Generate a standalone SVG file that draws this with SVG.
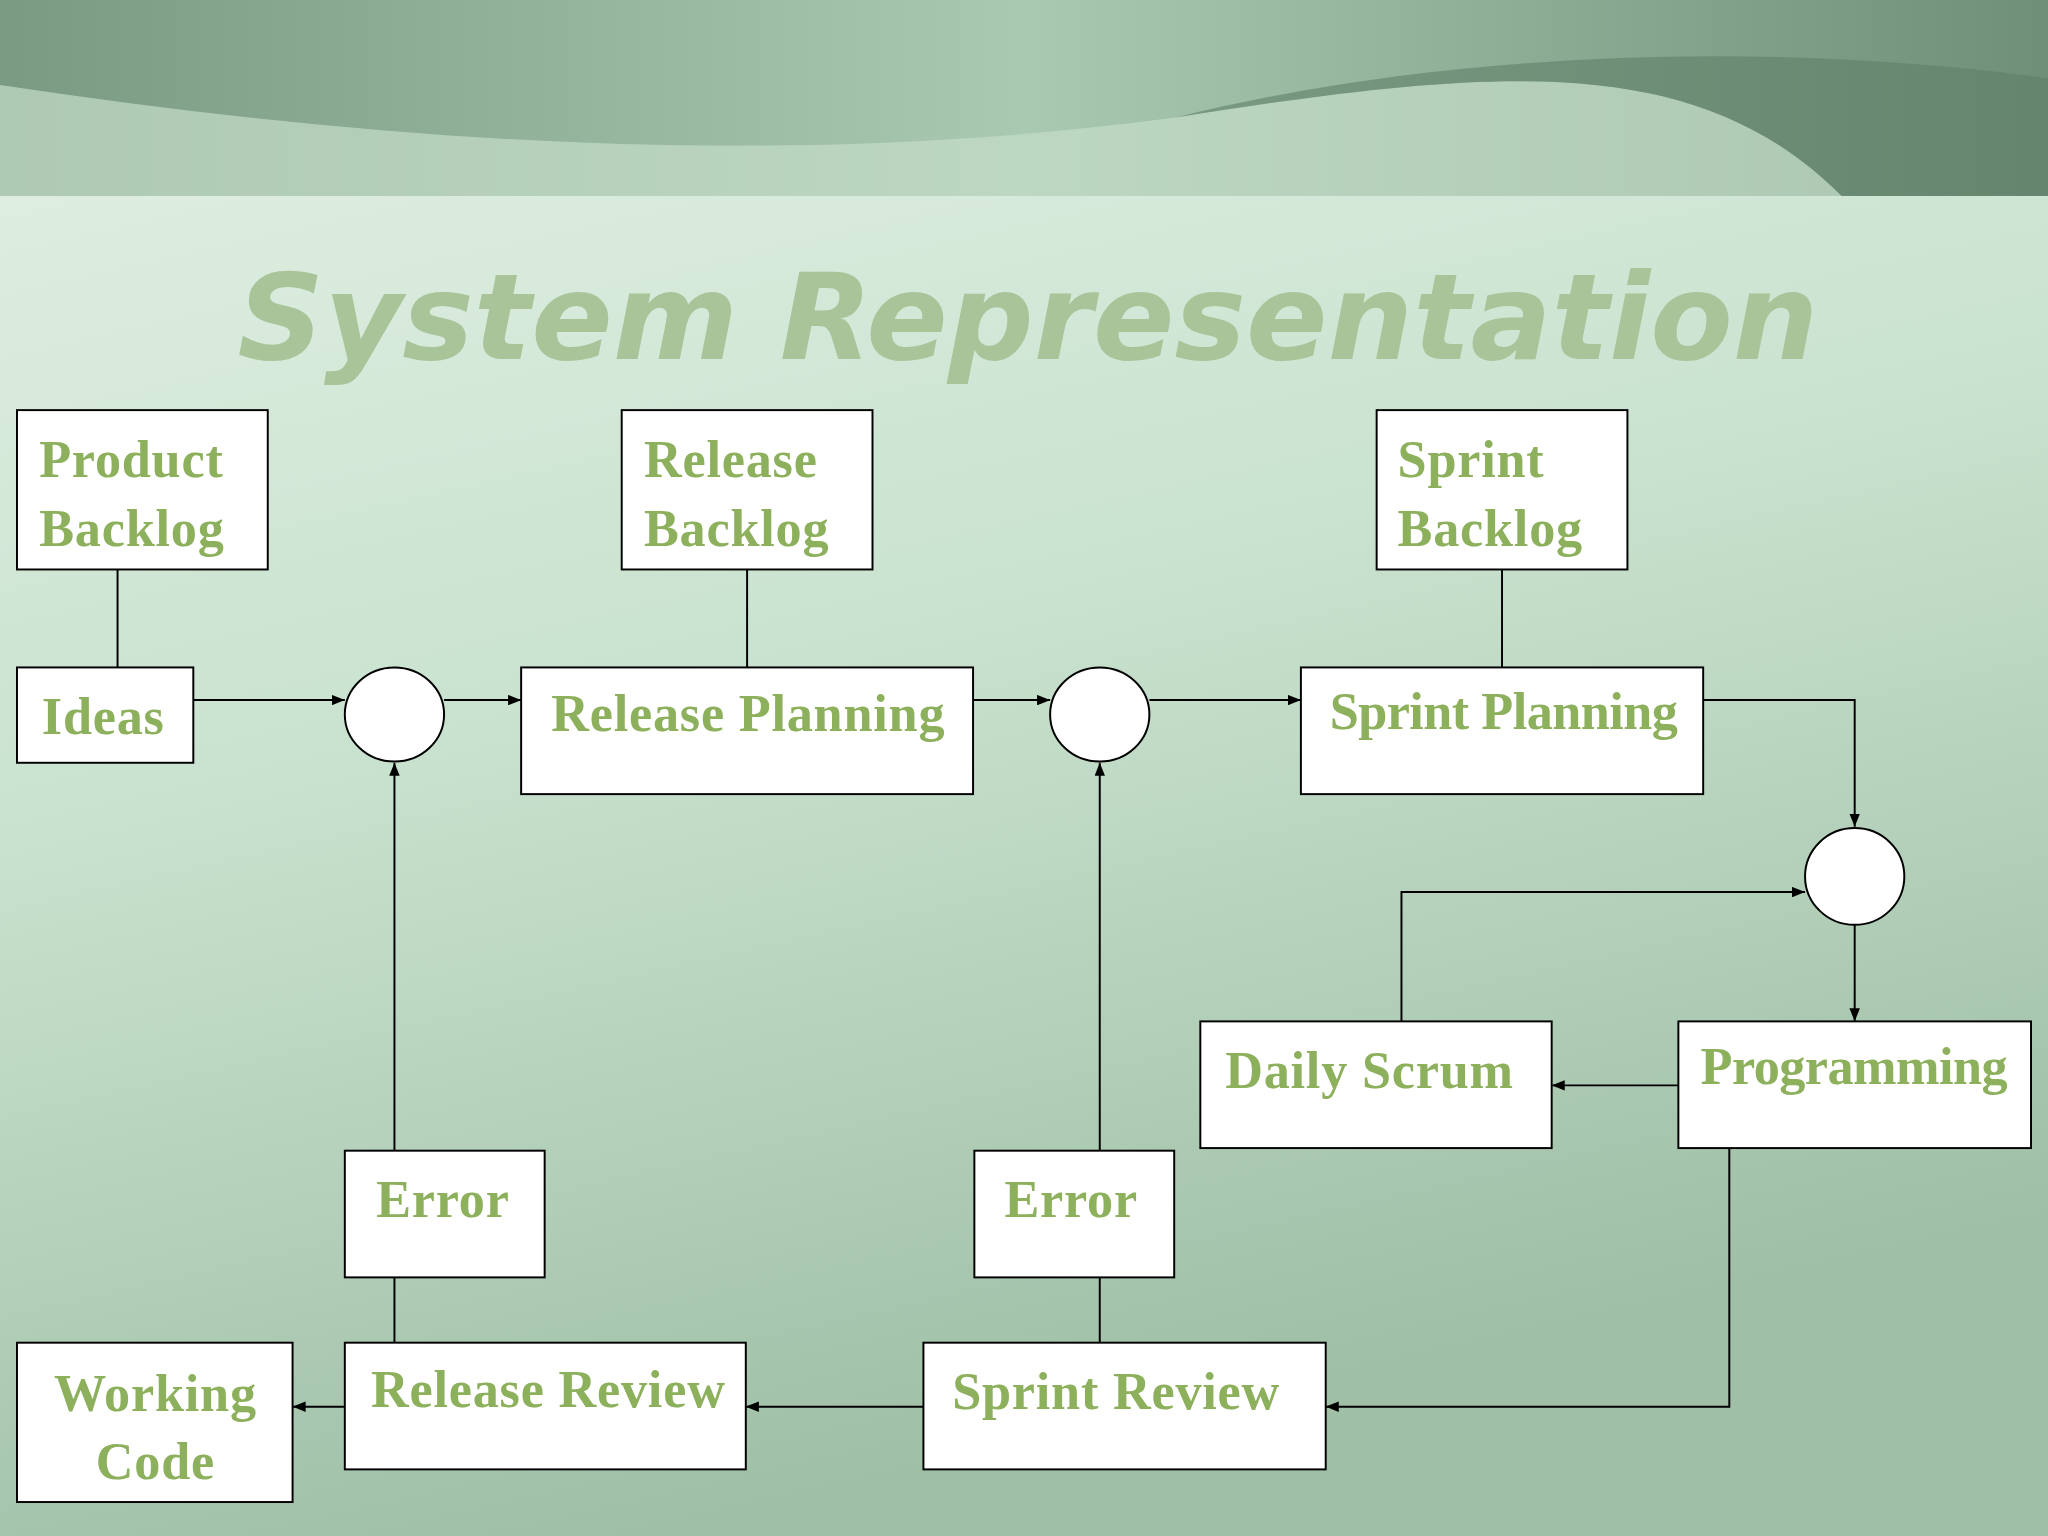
<svg xmlns="http://www.w3.org/2000/svg" width="2048" height="1536" viewBox="0 0 2048 1536">
<defs>
<linearGradient id="bg" x1="0" y1="0" x2="0.3" y2="1">
<stop offset="0" stop-color="#e4f1e6"/><stop offset="0.5" stop-color="#c9e2cf"/><stop offset="1" stop-color="#9fbfa6"/>
</linearGradient>
<linearGradient id="hd" x1="0" y1="0" x2="1" y2="0">
<stop offset="0" stop-color="#7a9a82"/><stop offset="0.5" stop-color="#a9c9b0"/><stop offset="1" stop-color="#6f8f78"/>
</linearGradient>
<marker id="ar" markerWidth="10" markerHeight="8" refX="10" refY="4" orient="auto" markerUnits="userSpaceOnUse">
<path d="M0,0 L10,4 L0,8 z" fill="#000"/>
</marker>
<style>
.b{fill:#fff;stroke:#000;stroke-width:1.5}
.t{font-family:"Liberation Serif",serif;font-weight:bold;font-size:40px;fill:#8db05c;letter-spacing:0.6px}
.n{letter-spacing:-0.4px}
.c line,.c polyline{stroke:#000;stroke-width:1.5;fill:none}
.a{marker-end:url(#ar)}
</style>
</defs>
<g transform="scale(1.30612)">
<rect width="1568" height="1176" fill="url(#bg)"/>
<rect width="1568" height="150" fill="url(#hd)"/>
<path d="M0,65 C300,110 600,130 900,90 C1150,50 1300,40 1410,150 L0,150 z" fill="#c5ddc9" opacity="0.7"/>
<path d="M1410,150 C1300,40 1150,50 900,90 C1100,40 1350,30 1568,60 L1568,150 z" fill="#5f7f68" opacity="0.6"/>
<text x="787" y="275" text-anchor="middle" font-family="'DejaVu Sans',sans-serif" font-weight="bold" font-style="italic" font-size="92" fill="#a8c498">System Representation</text>
<g class="c">
<line x1="90" y1="436" x2="90" y2="511"/>
<line class="a" x1="148" y1="536" x2="264" y2="536"/>
<line class="a" x1="340" y1="536" x2="399" y2="536"/>
<line x1="572" y1="436" x2="572" y2="511"/>
<line class="a" x1="745" y1="536" x2="804" y2="536"/>
<line class="a" x1="880" y1="536" x2="996" y2="536"/>
<line x1="1150" y1="436" x2="1150" y2="511"/>
<polyline class="a" points="1304,536 1420,536 1420,633"/>
<line class="a" x1="1420" y1="708" x2="1420" y2="782"/>
<line class="a" x1="1285" y1="831" x2="1188" y2="831"/>
<polyline class="a" points="1073,782 1073,683 1382,683"/>
<polyline class="a" points="1324,879 1324,1077 1015,1077"/>
<line class="a" x1="707" y1="1077" x2="571" y2="1077"/>
<line class="a" x1="264" y1="1077" x2="224" y2="1077"/>
<line class="a" x1="302" y1="881" x2="302" y2="584"/>
<line x1="302" y1="978" x2="302" y2="1028"/>
<line class="a" x1="842" y1="881" x2="842" y2="584"/>
<line x1="842" y1="978" x2="842" y2="1028"/>
</g>
<g id="product-backlog"><rect class="b" x="13" y="314" width="192" height="122"/><text class="t" x="30" y="365">Product</text><text class="t" x="30" y="418">Backlog</text></g>
<g id="ideas"><rect class="b" x="13" y="511" width="135" height="73"/><text class="t" x="32" y="562">Ideas</text></g>
<g id="c1"><ellipse class="b" cx="302" cy="547" rx="38" ry="36"/></g>
<g id="release-backlog"><rect class="b" x="476" y="314" width="192" height="122"/><text class="t" x="493" y="365">Release</text><text class="t" x="493" y="418">Backlog</text></g>
<g id="release-planning"><rect class="b" x="399" y="511" width="346" height="97"/><text class="t" x="422" y="560">Release Planning</text></g>
<g id="c2"><ellipse class="b" cx="842" cy="547" rx="38" ry="36"/></g>
<g id="sprint-backlog"><rect class="b" x="1054" y="314" width="192" height="122"/><text class="t" x="1070" y="365">Sprint</text><text class="t" x="1070" y="418">Backlog</text></g>
<g id="sprint-planning"><rect class="b" x="996" y="511" width="308" height="97"/><text class="t n" x="1018" y="558">Sprint Planning</text></g>
<g id="c3"><ellipse class="b" cx="1420" cy="671" rx="38" ry="37"/></g>
<g id="daily-scrum"><rect class="b" x="919" y="782" width="269" height="97"/><text class="t" x="938" y="833">Daily Scrum</text></g>
<g id="programming"><rect class="b" x="1285" y="782" width="270" height="97"/><text class="t n" x="1302" y="830">Programming</text></g>
<g id="error1"><rect class="b" x="264" y="881" width="153" height="97"/><text class="t" x="288" y="932">Error</text></g>
<g id="error2"><rect class="b" x="746" y="881" width="153" height="97"/><text class="t" x="769" y="932">Error</text></g>
<g id="working-code"><rect class="b" x="13" y="1028" width="211" height="122"/><text class="t" x="119" y="1080" text-anchor="middle">Working</text><text class="t" x="119" y="1132" text-anchor="middle">Code</text></g>
<g id="release-review"><rect class="b" x="264" y="1028" width="307" height="97"/><text class="t" x="284" y="1077">Release Review</text></g>
<g id="sprint-review"><rect class="b" x="707" y="1028" width="308" height="97"/><text class="t" x="729" y="1079">Sprint Review</text></g>
</g>
</svg>
